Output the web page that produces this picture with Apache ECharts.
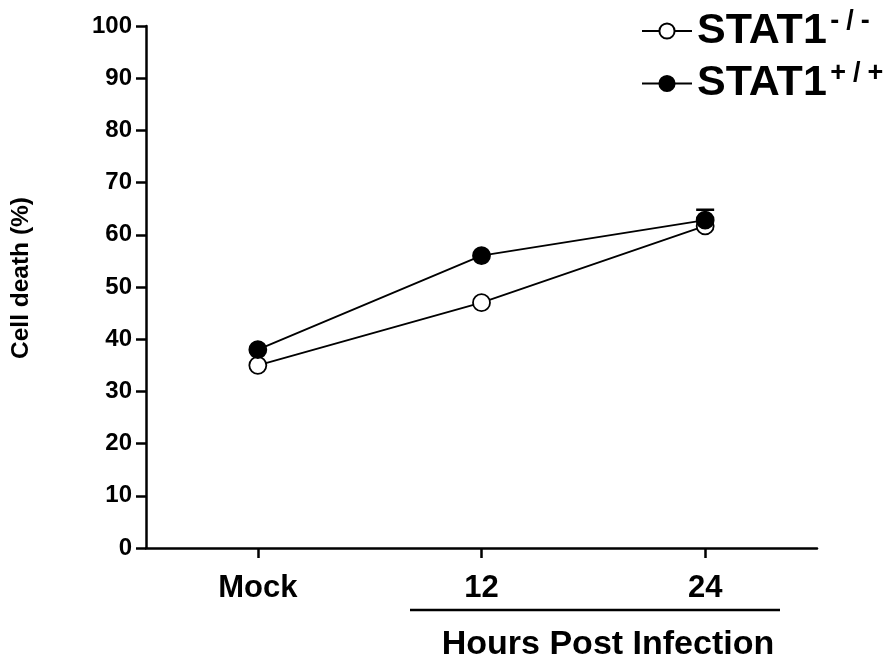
<!DOCTYPE html>
<html>
<head>
<meta charset="utf-8">
<script src="https://cdn.jsdelivr.net/npm/echarts@6/dist/echarts.min.js"></script>
<style>html,body{margin:0;padding:0;background:#fff;}#c{width:895px;height:660px;}</style>
</head>
<body>
<div id="c"></div>
<script>
var categories = ['Mock', '12', '24'];
var koValues = [35, 47, 61.7];
var koErrors = [0, 0, 0];
var wtValues = [38, 56, 62.8];
var wtErrors = [0, 0, 2];
var yTicks = [0, 10, 20, 30, 40, 50, 60, 70, 80, 90, 100];

var FONT = '"Liberation Sans", Arial, Helvetica, sans-serif';
var chart = echarts.init(document.getElementById('c'), null, {renderer: 'canvas'});

function errorSeries(name, values, errors) {
  var data = values.map(function (v, i) { return [i, v, v + errors[i], errors[i]]; });
  return {
    type: 'custom',
    name: name + '_err',
    z: 1,
    silent: true,
    legendHoverLink: false,
    data: data,
    renderItem: function (params, api) {
      if (!(api.value(3) > 0)) { return {type: 'group', children: []}; }
      var lo = api.coord([api.value(0), api.value(1)]);
      var hi = api.coord([api.value(0), api.value(2)]);
      var hw = 9;
      return {
        type: 'group',
        children: [
          {type: 'line', shape: {x1: hi[0], y1: hi[1], x2: lo[0], y2: lo[1]}, style: {stroke: '#000', lineWidth: 2}},
          {type: 'line', shape: {x1: hi[0] - hw, y1: hi[1], x2: hi[0] + hw, y2: hi[1]}, style: {stroke: '#000', lineWidth: 2.5}}
        ]
      };
    }
  };
}

var rich = {
  a: {fontSize: 43, fontWeight: 'bold', fontFamily: FONT, color: '#000', lineHeight: 46},
  s: {fontSize: 27, fontWeight: 'bold', fontFamily: FONT, color: '#000', verticalAlign: 'top', lineHeight: 14, padding: [0, 3.5, 0, 3.5]}
};

var option = {
  backgroundColor: '#fff',
  animation: false,
  grid: {left: 146, right: 78, top: 26, bottom: 112, containLabel: false},
  legend: {
    orient: 'vertical',
    left: 641,
    top: 8,
    padding: 0,
    itemWidth: 50,
    itemHeight: 19,
    itemGap: 8,
    data: ['STAT1-/-', 'STAT1+/+'],
    formatter: function (name) {
      var sup = name.slice(5).split('');
      return '{a|STAT1}' + sup.map(function (c) { return '{s|' + c + '}'; }).join('');
    },
    textStyle: {rich: rich}
  },
  xAxis: {
    type: 'category',
    data: categories,
    boundaryGap: true,
    axisLine: {show: true, lineStyle: {color: '#000', width: 2.5}},
    axisTick: {show: true, interval: 0, alignWithLabel: true, length: 10, lineStyle: {color: '#000', width: 2.5}},
    axisLabel: {color: '#000', fontSize: 31, fontWeight: 'bold', fontFamily: FONT, margin: 25},
    splitLine: {show: false}
  },
  yAxis: {
    type: 'value',
    min: 0,
    max: 100,
    interval: 10,
    name: 'Cell death (%)',
    nameLocation: 'middle',
    nameGap: 112,
    nameTextStyle: {color: '#000', fontSize: 24.5, fontWeight: 'bold', fontFamily: FONT, padding: [0, 0, 0, 18]},
    axisLine: {show: true, lineStyle: {color: '#000', width: 2.5}},
    axisTick: {show: true, length: 10, lineStyle: {color: '#000', width: 2.5}},
    axisLabel: {color: '#000', fontSize: 24, fontWeight: 'bold', fontFamily: FONT, margin: 14,
      formatter: function (v) { return yTicks.indexOf(v) >= 0 ? String(v) : ''; }},
    splitLine: {show: false}
  },
  graphic: [
    {type: 'line', shape: {x1: 410, y1: 610, x2: 780, y2: 610}, style: {stroke: '#000', lineWidth: 2.5}},
    {type: 'text', x: 608, y: 645, style: {text: 'Hours Post Infection', fill: '#000', font: 'bold 34px ' + FONT, textAlign: 'center', textVerticalAlign: 'middle'}}
  ],
  series: [
    errorSeries('ko', koValues, koErrors),
    errorSeries('wt', wtValues, wtErrors),
    {
      name: 'STAT1-/-',
      type: 'line',
      data: koValues,
      z: 3,
      symbol: 'circle',
      symbolSize: 17,
      showAllSymbol: true,
      lineStyle: {color: '#000', width: 1.8},
      itemStyle: {color: '#fff', borderColor: '#000', borderWidth: 1.8}
    },
    {
      name: 'STAT1+/+',
      type: 'line',
      data: wtValues,
      z: 4,
      symbol: 'circle',
      symbolSize: 17,
      showAllSymbol: true,
      lineStyle: {color: '#000', width: 1.8},
      itemStyle: {color: '#000', borderColor: '#000', borderWidth: 1.8}
    }
  ]
};
chart.setOption(option);
</script>
</body>
</html>
